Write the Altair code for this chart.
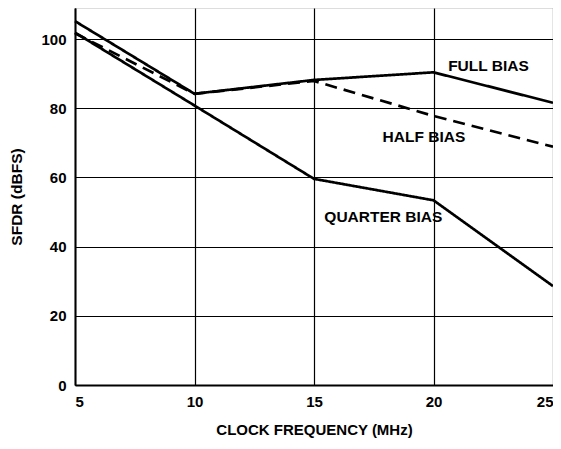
import altair as alt
import pandas as pd

freq = [5, 10, 15, 20, 25]
full_bias = [105.2, 84.2, 88.2, 90.4, 81.6]
half_bias = [101.7, 84.2, 87.9, 77.8, 68.9]
quarter_bias = [101.9, 80.8, 59.6, 53.4, 28.6]

label_text = ["FULL BIAS", "HALF BIAS", "QUARTER BIAS"]
label_x = [22.3, 19.6, 17.9]
label_y = [92.3, 71.7, 48.7]

rows = []
for name, vals in [("FULL BIAS", full_bias), ("HALF BIAS", half_bias), ("QUARTER BIAS", quarter_bias)]:
    for f, v in zip(freq, vals):
        rows.append({"freq": f, "sfdr": v, "series": name})
df = pd.DataFrame(rows)
lab = pd.DataFrame({"text": label_text, "x": label_x, "y": label_y})

FONT = "Liberation Sans"

xs = alt.Scale(domain=[5, 25], nice=False, zero=False)
ys = alt.Scale(domain=[0, 109], nice=False)

lines = alt.Chart(df).mark_line(color="black", strokeWidth=2.7).encode(
    x=alt.X("freq:Q", scale=xs, title="CLOCK FREQUENCY (MHz)",
            axis=alt.Axis(values=freq, format="d", grid=True, gridColor="black",
                          gridWidth=1.2, gridOpacity=1, domainColor="black",
                          domainWidth=2, ticks=False, labelPadding=9,
                          labelFont=FONT, labelFontSize=15, labelFontWeight="bold",
                          labelColor="black", titleFont=FONT, titleFontSize=15,
                          titleFontWeight="bold", titleColor="black", titlePadding=13)),
    y=alt.Y("sfdr:Q", scale=ys, title="SFDR (dBFS)",
            axis=alt.Axis(values=[0, 20, 40, 60, 80, 100], grid=True, gridColor="black",
                          gridWidth=1.2, gridOpacity=1, domainColor="black",
                          domainWidth=2, ticks=False, labelPadding=9,
                          labelFont=FONT, labelFontSize=15, labelFontWeight="bold",
                          labelColor="black", titleFont=FONT, titleFontSize=15.5,
                          titleFontWeight="bold", titleColor="black", titlePadding=16)),
    detail="series:N",
    strokeDash=alt.StrokeDash("series:N",
                              scale=alt.Scale(domain=label_text,
                                              range=[[1, 0], [12, 7], [1, 0]]),
                              legend=None),
)

labels = alt.Chart(lab).mark_text(font=FONT, fontSize=15.5, fontWeight="bold",
                                  color="black", align="center", baseline="middle").encode(
    x=alt.X("x:Q", scale=xs), y=alt.Y("y:Q", scale=ys), text="text:N")

chart = alt.layer(lines, labels).properties(
    width=478, height=377,
    autosize=alt.AutoSizeParams(type="none"),
    padding={"left": 67, "top": 0, "right": 0, "bottom": 56},
).configure_view(stroke="black", strokeWidth=2).configure(background="white")

chart.save("out.html", embed_options={"renderer": "svg", "actions": False})
